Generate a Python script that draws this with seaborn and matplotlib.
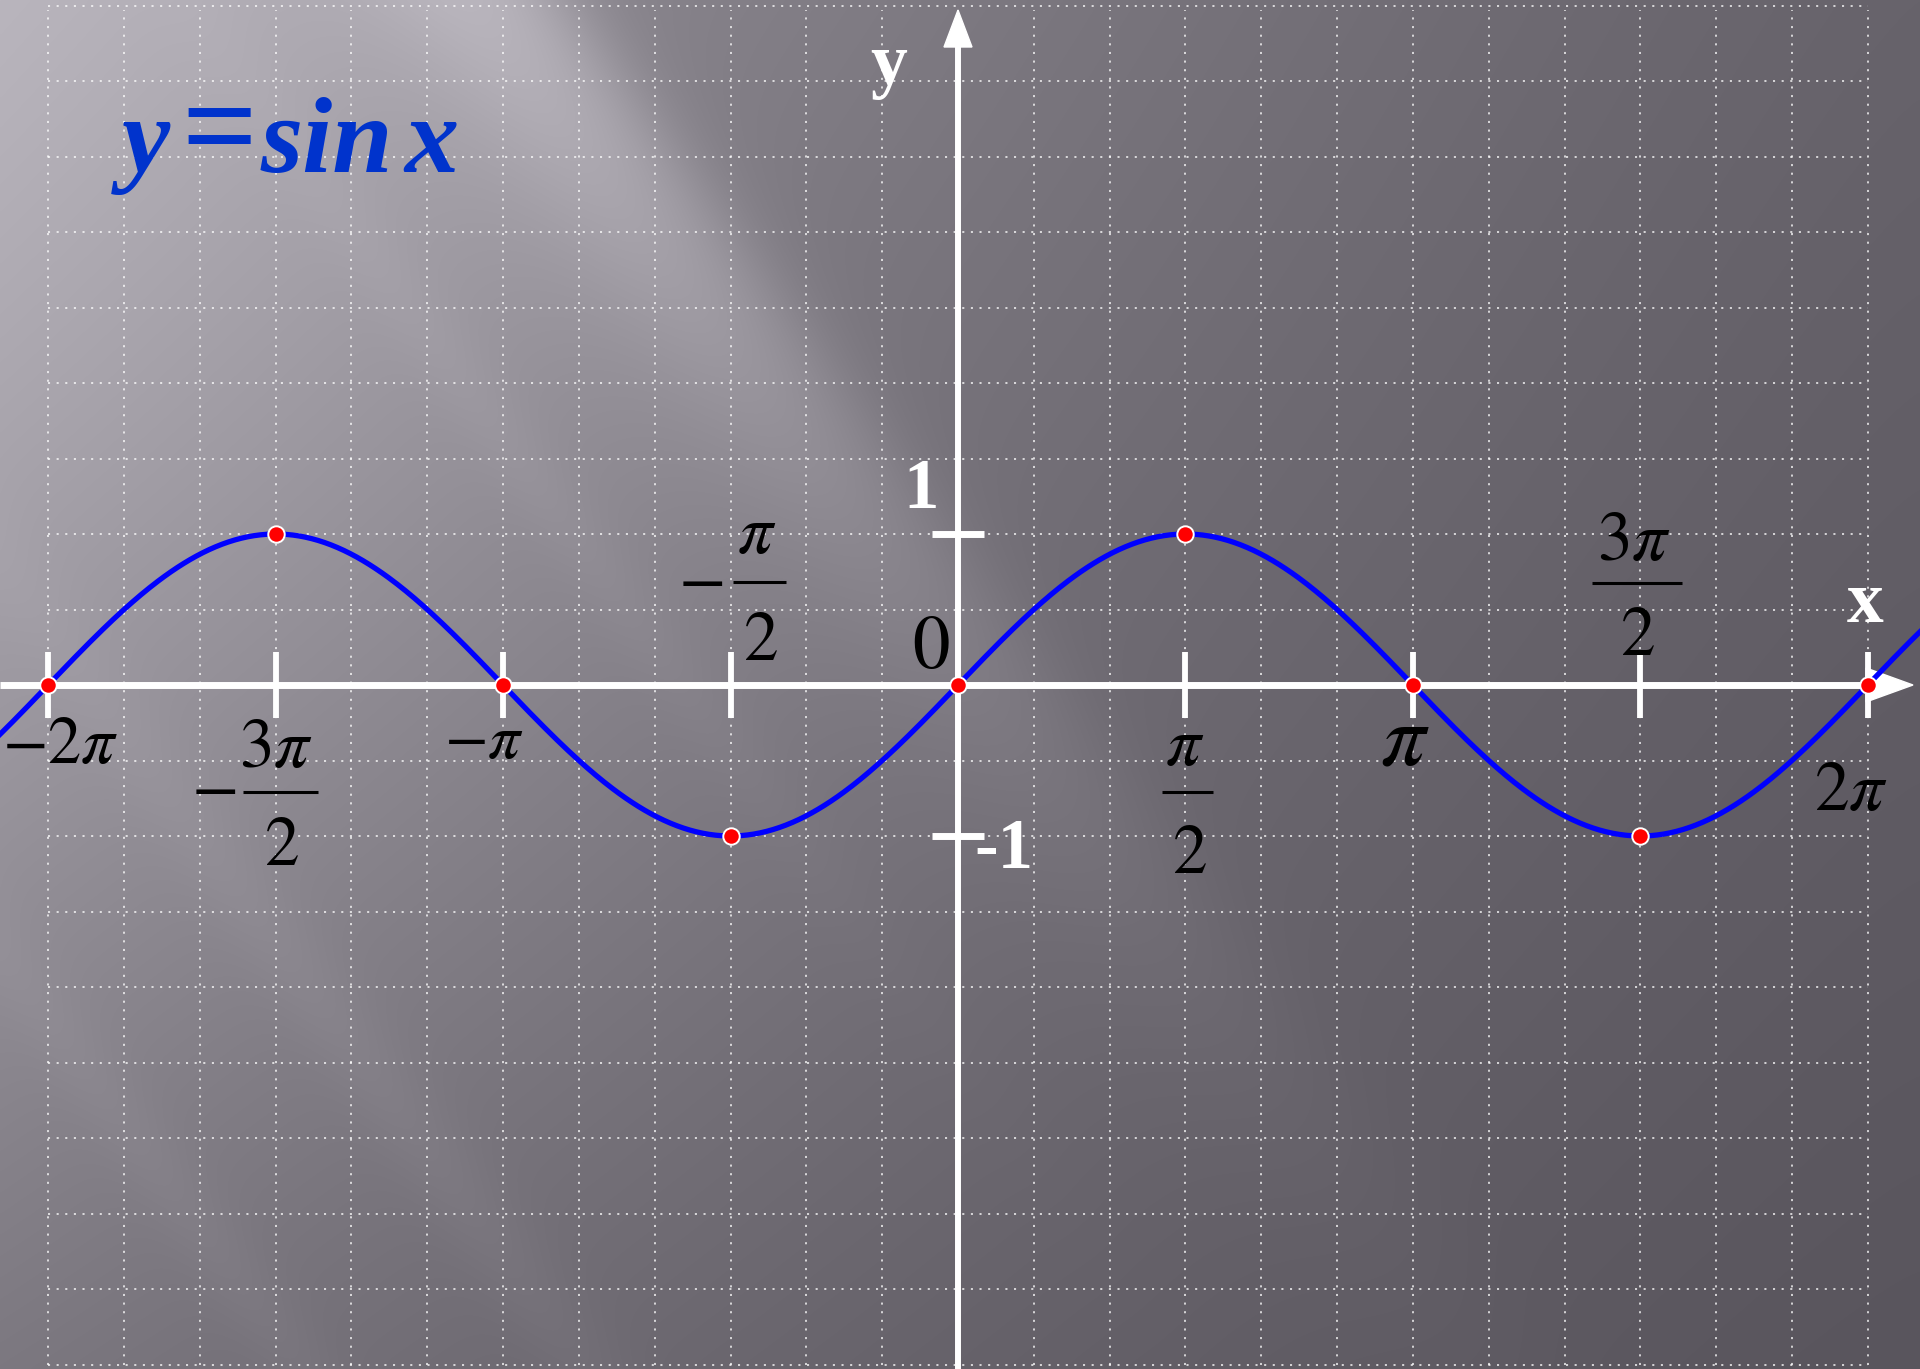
import numpy as np
import matplotlib
matplotlib.use("Agg")
import matplotlib.pyplot as plt
import seaborn as sns

# ---------------- data ----------------
key_multiples = [-4, -3, -2, -1, 0, 1, 2, 3, 4]        # key points in units of pi/2
key_values = [0, 1, 0, -1, 0, 1, 0, -1, 0]              # sin at those points
x_tick_multiples = [-4, -3, -2, -1, 1, 2, 3, 4]         # x ticks in units of pi/2
y_tick_values = [1, -1]
title_parts = ["y", "=", "sin", "x"]

# ---------------- layout (pixel mapping of the slide) ----------------
W, H, DPI = 1920, 1369, 100
X0_PX, UX = 958.0, 144.8     # pixel of x=0, pixels per x unit
Y0_PX, UY = 685.0, 151.0     # pixel (from top) of y=0, pixels per y unit


def dx(px):
    return (px - X0_PX) / UX


def dy(py):
    return (Y0_PX - py) / UY


XLIM = (dx(0), dx(W))
YLIM = (dy(H), dy(0))

plt.rcParams["mathtext.fontset"] = "stix"
plt.rcParams["font.family"] = ["Liberation Serif", "DejaVu Serif"]

fig = plt.figure(figsize=(W / DPI, H / DPI), dpi=DPI)
ax = fig.add_axes([0, 0, 1, 1])
ax.set_xlim(*XLIM)
ax.set_ylim(*YLIM)
ax.axis("off")

# ---------------- background (light-ray gray gradient) ----------------
yy, xx = np.mgrid[0:H:2, 0:W:2].astype(float)
xn, yn = xx / W, yy / H
base = 89 + 52 * (1 - xn) ** 1.25 * (1 - 0.5 * yn) + 14 * (1 - yn)
ang = np.radians(54.0)
u = xx * np.sin(ang) - yy * np.cos(ang)     # across the light rays
v = xx * np.cos(ang) + yy * np.sin(ang)     # along the light rays
inside = 1.0 / (1.0 + np.exp((u - 462) / 22.0))
core = 30 * np.exp(-(v / 1000) ** 2)
edge = 20 * np.exp(-((u - 395) / 90) ** 2) * np.exp(-(v / 1150) ** 2)
streaks = (6 * np.exp(-((u + 330) / 40) ** 2) * np.exp(-((v - 1100) / 700) ** 2)
           + 5 * np.exp(-((u + 560) / 35) ** 2) * np.exp(-((v - 1100) / 600) ** 2)
           + 5 * np.exp(-((u - 150) / 35) ** 2) * np.exp(-((v - 700) / 500) ** 2))
g = base + inside * (core + edge) + streaks
rgb = np.clip(np.dstack([g, g - 4, g + 4]) / 255.0, 0, 1)
ax.imshow(rgb, extent=(XLIM[0], XLIM[1], YLIM[0], YLIM[1]), origin="upper",
          aspect="auto", interpolation="bilinear", zorder=0)

# ---------------- dotted grid ----------------
grid_x = np.arange(-12, 13) * np.pi / 6
grid_y = np.arange(-9, 10) * 0.5
dot = [(0, (1.3, 4.1))]
ax.vlines(grid_x, -4.5, 4.47, colors="white", linestyles=dot, linewidth=1.15,
          alpha=0.9, zorder=1)
ax.hlines(grid_y, -2 * np.pi, 2 * np.pi, colors="white", linestyles=dot,
          linewidth=1.15, alpha=0.9, zorder=1)

# ---------------- axes with arrows ----------------
x_tip, x_base, x_half = dx(1913), dx(1866), 17 / UY
ax.plot([XLIM[0], x_base + 0.02], [0, 0], color="white", lw=5.0,
        solid_capstyle="butt", zorder=3)
ax.fill([x_base, x_tip, x_base], [x_half, 0, -x_half], color="white", zorder=3)
y_tip, y_base, y_half = dy(10), dy(47), 14 / UX
ax.plot([0, 0], [YLIM[0], y_base + 0.02], color="white", lw=4.3,
        solid_capstyle="butt", zorder=3)
ax.fill([-y_half, 0, y_half], [y_base, y_tip, y_base], color="white", zorder=3)

# ticks
tick_x = np.array(x_tick_multiples) * np.pi / 2
ax.vlines(tick_x, -0.22, 0.22, colors="white", linewidth=4.2, zorder=3)
ax.hlines(y_tick_values, -0.18, 0.18, colors="white", linewidth=5.0, zorder=3)

# ---------------- curve and key points (seaborn) ----------------
curve_x = np.linspace(XLIM[0], XLIM[1], 900)
curve_y = np.sin(curve_x)
sns.lineplot(x=curve_x, y=curve_y, ax=ax, color="#0000ff", linewidth=3.8,
             sort=False, estimator=None, zorder=4)
key_x = np.array(key_multiples) * np.pi / 2
sns.scatterplot(x=key_x, y=key_values, ax=ax, s=140, color="#ff0000",
                edgecolor="white", linewidth=1.4, zorder=5)

# ---------------- labels ----------------
def mtext(s, cx, base_px, size, color="black", ha="center"):
    ax.text(dx(cx), dy(base_px), s, fontsize=size, color=color, ha=ha,
            va="baseline", zorder=6)


def bar(x0, x1, ypx):
    ax.plot([dx(x0), dx(x1)], [dy(ypx), dy(ypx)], color="black", lw=2.2,
            solid_capstyle="butt", zorder=6)


FS = 50
# -2pi
mtext(r"$-2\pi$", 60, 763, 48)
# -3pi/2
mtext(r"$-$", 214, 790 + 17, FS)
mtext(r"$3\pi$", 276, 767, FS)
bar(243, 318, 792)
mtext(r"$2$", 281, 865, FS)
# -pi
mtext(r"$-\pi$", 484, 758, 46)
# -pi/2
mtext(r"$-$", 701, 582 + 17, FS)
mtext(r"$\pi$", 757, 553, FS)
bar(733, 786, 582)
mtext(r"$2$", 760, 660, FS)
# 0
mtext(r"$0$", 931, 668, 54)
# pi/2
mtext(r"$\pi$", 1185, 765, FS)
bar(1162, 1213, 792)
mtext(r"$2$", 1189, 873, FS)
# pi
mtext(r"$\pi$", 1405, 765, 64)
# 3pi/2
mtext(r"$3\pi$", 1634, 560, FS)
bar(1592, 1682, 583)
mtext(r"$2$", 1637, 655, FS)
# 2pi
mtext(r"$2\pi$", 1851, 810, FS)

# y tick labels (white bold)
ax.text(dx(921), dy(508), "1", fontsize=51, color="white", fontweight="bold",
        ha="center", va="baseline", zorder=6)
ax.text(dx(1004), dy(868), "-1", fontsize=51, color="white", fontweight="bold",
        ha="center", va="baseline", zorder=6)

# axis names
ax.text(dx(889), dy(84), "y", fontsize=53, color="white", fontweight="bold",
        ha="center", va="baseline", zorder=6)
ax.text(dx(1865), dy(622), "x", fontsize=53, color="white", fontweight="bold",
        ha="center", va="baseline", zorder=6)

# title  y = sin x
TC = "#0033cc"
ax.text(dx(122), dy(172), title_parts[0], fontsize=78, color=TC,
        fontweight="bold", fontstyle="italic", ha="left", va="baseline", zorder=6)
ax.text(dx(219), dy(170), title_parts[1], fontsize=96, color=TC,
        fontweight="bold", ha="center", va="baseline", zorder=6)
ax.text(dx(261), dy(172), title_parts[2], fontsize=78, color=TC,
        fontweight="bold", fontstyle="italic", ha="left", va="baseline", zorder=6)
ax.text(dx(404), dy(172), title_parts[3], fontsize=78, color=TC,
        fontweight="bold", fontstyle="italic", ha="left", va="baseline", zorder=6)

fig.savefig("out.png", dpi=DPI)
